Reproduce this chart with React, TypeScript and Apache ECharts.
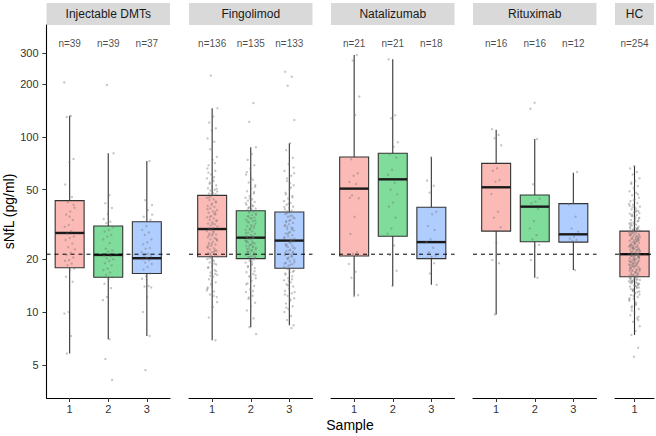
import React, { useEffect, useRef } from "react";
import * as echarts from "echarts";

// ---------------- data ----------------
const panelNames = ["Injectable DMTs", "Fingolimod", "Natalizumab", "Rituximab", "HC"];
const sampleLabels = [["1", "2", "3"], ["1", "2", "3"], ["1", "2", "3"], ["1", "2", "3"], ["1"]];
const groupCounts = [[39, 39, 37], [136, 135, 133], [21, 21, 18], [16, 16, 12], [254]];

const whiskerLow = [[5.8, 7.0, 7.3], [6.9, 8.2, 8.4], [12.4, 14.1, 14.3], [9.7, 15.7, 17.4], [7.4]];
const hingeLow = [[17.9, 15.8, 16.6], [20.7, 20.2, 17.8], [20.9, 27.1, 20.2], [29.0, 25.2, 25.1], [15.9]];
const medians = [[28.3, 21.2, 20.3], [29.8, 26.6, 25.6], [50.7, 57.3, 25.1], [51.6, 40.0, 27.8], [21.4]];
const hingeHigh = [[43.3, 31.0, 32.8], [46.4, 37.9, 37.3], [76.9, 80.7, 39.7], [70.7, 46.6, 41.6], [29.0]];
const whiskerHigh = [[132, 80.7, 72.9], [146, 87.3, 92], [294, 278, 76.6], [110, 97.4, 62.5], [68.3]];

const hcMedianLine = 21.4;
const yTickValues = [5, 10, 20, 50, 100, 200, 300];

const ptsInj1 = [205, 132, 130, 74.8, 71.5, 53.5, 45.4, 42.4, 39.4, 37.5, 36, 33.6, 31.4, 30.7, 29, 28, 27, 26.5, 25.8, 24.6, 23.5, 22.8, 21.8, 21.2, 20.5, 19.8, 19.6, 18.9, 18.5, 17.7, 17.4, 15.9, 14.9, 10.0, 9.8, 7.3, 5.8, 41, 35];
const ptsInj2 = [198, 80.7, 46.6, 41.8, 39.3, 36.3, 34.0, 32.8, 32.2, 30.5, 29.4, 28.8, 27.6, 27, 26, 24.8, 23, 22.5, 22.2, 21, 20.8, 20.3, 20, 19.6, 19, 18.5, 17.7, 17.4, 16.8, 16.3, 15.8, 15.4, 14.5, 13.7, 12.2, 11.7, 7.0, 5.4, 4.1];
const ptsInj3 = [72.9, 43.6, 40.9, 38.3, 35, 33.6, 31, 29.4, 28.5, 27.6, 26, 25, 24.4, 23.2, 23, 22, 21.5, 21, 20.8, 20.5, 20, 19.8, 19.2, 18.8, 18.1, 17.5, 16.6, 16, 15.5, 14.1, 14.0, 13.8, 12.2, 10.0, 7.3, 4.66, 36];

const ptsFin1 = [
  224, 146, 131, 121, 112, 109, 98, 94, 85, 77, 74, 69, 64, 61, 58, 56, 54, 53, 52, 51, 50, 49.5, 48.8, 48, 47.6, 47.1, 46.9, 66, 59, 55, 50.6, 57.4, 62.5, 71,
  45.8, 44.9, 44.1, 43.6, 42.2, 41.7, 40.3, 39.8, 39.1, 38.2, 37.6, 36.9, 36.1, 35.4, 34.8, 34.2, 33.7, 33.1, 32.6, 32.0, 31.7, 31.2, 30.8, 30.3, 45.1, 42.8, 40.9, 38.7, 36.4, 35.0, 33.4, 31.9, 30.1, 37.2,
  29.5, 29.0, 28.6, 28.1, 27.7, 27.3, 26.8, 26.5, 26.0, 25.6, 25.2, 24.8, 24.3, 23.9, 23.6, 23.1, 22.8, 22.4, 22.0, 21.7, 21.3, 21.0, 20.8, 28.9, 27.5, 26.2, 24.6, 23.3, 22.2, 21.5, 25.9, 27.9, 24.1, 22.6,
  20.5, 20.1, 19.6, 19.2, 18.7, 18.3, 17.9, 17.4, 16.8, 16.3, 15.9, 15.4, 14.8, 14.2, 13.6, 13.1, 12.6, 12.2, 19.9, 18.0, 16.5, 14.5, 13.3, 12.4, 20.3, 17.1, 15.1, 13.8, 18.9, 16.1, 11.4, 10.7, 9.3, 6.9,
];
const ptsFin2 = [
  156, 122, 87.3, 80, 74, 69, 66, 61, 57, 55, 53, 51, 49, 47.5, 46, 45, 44, 43.3, 42.5, 41.6, 41, 40.2, 39.6, 39, 38.5, 38.2, 48.4, 44.6, 42, 40.6, 39.3, 52, 58.5, 63,
  37.5, 37.0, 36.4, 35.9, 35.3, 34.7, 34.2, 33.6, 33.1, 32.5, 32.0, 31.4, 30.9, 30.3, 29.8, 29.4, 28.9, 28.5, 28.0, 27.6, 27.2, 26.9, 37.7, 36.0, 34.4, 32.8, 31.1, 29.6, 28.2, 27.0, 35.1, 33.3, 30.6, 26.8,
  26.4, 26.1, 25.7, 25.3, 25.0, 24.6, 24.2, 23.8, 23.5, 23.1, 22.8, 22.4, 22.1, 21.8, 21.5, 21.2, 20.9, 20.6, 20.4, 26.2, 25.5, 24.8, 24.0, 23.3, 22.6, 21.9, 21.3, 20.7, 25.1, 23.7, 22.2, 20.5, 24.4, 22.9,
  20.0, 19.6, 19.2, 18.8, 18.3, 17.8, 17.4, 16.9, 16.5, 16.0, 15.6, 15.1, 14.6, 14.1, 13.5, 13.0, 12.4, 11.9, 11.3, 10.8, 10.2, 9.2, 8.2, 7.5, 19.4, 18.1, 17.1, 15.8, 14.4, 13.2, 12.1, 16.2, 18.6,
];
const ptsFin3 = [
  236, 221, 196, 125, 92, 84, 76, 70, 64, 60, 56, 53, 50.5, 48, 46, 44.5, 43, 42, 41, 40, 39.3, 38.6, 38, 37.6, 62, 54.5, 47, 45.2, 41.5, 39.8, 51.5, 58, 67,
  37.0, 36.3, 35.6, 35.0, 34.3, 33.6, 33.0, 32.3, 31.7, 31.0, 30.4, 29.8, 29.2, 28.6, 28.1, 27.5, 27.0, 26.5, 26.0, 36.6, 34.7, 33.2, 31.4, 29.5, 27.8, 26.2, 35.3, 32.7, 30.1, 28.4, 26.7, 25.8, 30.7,
  25.3, 24.9, 24.4, 24.0, 23.5, 23.1, 22.7, 22.3, 21.9, 21.5, 21.1, 20.7, 20.3, 19.9, 19.5, 19.1, 18.8, 18.4, 18.1, 25.0, 24.2, 23.3, 22.5, 21.7, 20.9, 20.1, 19.3, 18.6, 23.8, 22.0, 20.5, 18.9, 21.3,
  17.6, 17.2, 16.8, 16.4, 16.0, 15.6, 15.2, 14.8, 14.4, 14.0, 13.6, 13.2, 12.8, 12.4, 12.0, 11.6, 11.2, 10.8, 10.4, 10.0, 9.5, 9.0, 8.4, 17.4, 16.6, 15.4, 14.2, 13.0, 11.8, 10.6, 17.0, 15.0, 12.6, 8.1,
];

const ptsNat1 = [294, 273, 170, 133.5, 74.6, 62, 60, 55.3, 53.9, 46.4, 44.7, 35, 27.9, 22, 21.5, 18.8, 17, 15.7, 12.5, 12.3, 45];
const ptsNat2 = [278, 133, 128, 93.3, 88, 79.6, 76.2, 65, 60.9, 54.8, 50, 47.1, 42.2, 40, 34.6, 30, 28, 24, 21.2, 17.2, 14.1];
const ptsNat3 = [76.6, 56.3, 52.7, 48.1, 37.4, 36.2, 31, 29.4, 26, 25, 23.3, 22, 21, 20.7, 20.3, 19, 16.6, 14.3];

const ptsRit1 = [110.6, 102.6, 98.3, 89.6, 66.2, 64.2, 56.8, 55.5, 47.2, 37.4, 34.6, 30.5, 24.9, 19.8, 19.0, 9.7];
const ptsRit2 = [157, 145, 97.4, 53.7, 44.4, 42.7, 41.8, 38.9, 33, 30, 27.5, 26, 24.2, 23.8, 19.8, 15.7];
const ptsRit3 = [63.1, 41.8, 41.2, 35, 30, 28.8, 26.9, 26.3, 25.8, 25.5, 25.2, 17.4];

const ptsHC = [
  68.3, 66, 63, 61, 58, 56, 54, 52.5, 51, 49, 48, 46.5, 45, 44, 43, 42, 41, 40, 39.2, 38.5, 37.8, 37, 36.4, 35.8, 35.2, 34.6, 34, 33.5, 33, 32.5,
  32, 31.6, 31.2, 30.8, 30.4, 30, 29.7, 29.4, 29.2, 29.1, 55, 47, 43.5, 40.5, 38, 36, 34.3, 32.8, 31.4, 30.2, 29.6, 41.5, 37.4, 35.5, 33.2, 31.8, 30.6, 29.8, 39.6, 36.8, 34.8, 32.2, 30.1,
  28.8, 28.6, 28.3, 28.1, 27.9, 27.6, 27.4, 27.1, 26.9, 26.7, 26.4, 26.2, 26.0, 25.7, 25.5, 25.3, 25.0, 24.8, 24.6, 24.4, 24.1, 23.9, 23.7, 23.5, 23.3, 23.1, 22.9, 22.7, 22.5, 22.3,
  22.1, 21.9, 21.7, 21.5, 28.5, 27.8, 27.0, 26.3, 25.6, 24.9, 24.2, 23.6, 23.0, 22.4, 21.8, 28.2, 26.6, 25.1, 23.8, 22.6, 21.6, 27.3, 24.5, 22.0, 26.1, 23.4, 28.9, 25.9, 24.0, 22.8, 21.4, 27.5, 25.4, 23.2,
  21.3, 21.1, 20.9, 20.7, 20.5, 20.3, 20.1, 19.9, 19.7, 19.5, 19.3, 19.1, 18.9, 18.7, 18.5, 18.3, 18.1, 17.9, 17.7, 17.5, 17.3, 17.1, 16.9, 16.7, 16.5, 16.3, 16.1, 15.95,
  21.2, 20.6, 20.0, 19.4, 18.8, 18.2, 17.6, 17.0, 16.4, 21.0, 19.8, 18.6, 17.4, 16.2, 20.4, 19.0, 17.8, 16.6, 20.8, 19.6, 18.4, 17.2, 16.0, 20.2, 18.0, 21.35, 19.2, 17.5, 16.8, 20.95, 19.45, 18.35, 17.25, 16.15, 18.75, 20.55,
  15.8, 15.6, 15.4, 15.2, 15.0, 14.8, 14.6, 14.4, 14.2, 14.0, 13.7, 13.4, 13.1, 12.8, 12.5, 12.2, 11.9, 11.6, 11.2, 10.8, 10.4, 10.0, 9.6, 9.2, 8.8, 8.3, 7.8, 7.4, 6.25, 5.55,
  15.7, 15.3, 14.9, 14.5, 14.1, 13.6, 13.0, 12.4, 11.8, 11.0, 10.2, 9.4, 15.5, 14.7, 13.9, 13.2, 12.6, 11.4, 15.1, 14.3, 13.5, 12.0, 15.85, 14.95, 13.8, 12.9, 15.45, 14.65, 13.3, 15.25, 14.15, 10.6, 9.0,
];

const pointsByPanel = [
  [ptsInj1, ptsInj2, ptsInj3],
  [ptsFin1, ptsFin2, ptsFin3],
  [ptsNat1, ptsNat2, ptsNat3],
  [ptsRit1, ptsRit2, ptsRit3],
  [ptsHC],
];

// ---------------- layout / style ----------------
const FONT = '"Liberation Sans", Arial, Helvetica, sans-serif';
const gridLeft = [46.5, 189, 331, 473, 615];
const gridWidth = [123.5, 123.5, 123.5, 123.5, 39];
const xRange = [[0.4, 3.6], [0.4, 3.6], [0.4, 3.6], [0.4, 3.6], [0.5, 1.5]];
const gridTop = 25;
const gridBottom = 38;
const yMin = 3.23;
const yMax = 436;
const nLabelY = 342;
const boxHalf = 0.375;
const jitterHalf = 0.14;
const fills = ["rgba(248,118,109,0.5)", "rgba(0,186,56,0.5)", "rgba(97,156,255,0.5)"];

const jitter = (i: number, g: number) => ((((i * 0.6180339887 + g * 0.371) % 1) + 1) % 1 - 0.5) * 2 * jitterHalf;

function renderBox(params: any, api: any) {
  const x = api.value(0);
  const lo = api.value(1);
  const q1 = api.value(2);
  const md = api.value(3);
  const q3 = api.value(4);
  const hi = api.value(5);
  const ci = api.value(6);
  const pLo = api.coord([x, lo]);
  const pHi = api.coord([x, hi]);
  const pQ1 = api.coord([x - boxHalf, q1]);
  const pQ3 = api.coord([x + boxHalf, q3]);
  const pMd = api.coord([x - boxHalf, md]);
  const pMdR = api.coord([x + boxHalf, md]);
  const stroke = "#333333";
  return {
    type: "group",
    children: [
      { type: "line", shape: { x1: pHi[0], y1: pHi[1], x2: pHi[0], y2: pQ3[1] }, style: { stroke, lineWidth: 1.1 } },
      { type: "line", shape: { x1: pLo[0], y1: pLo[1], x2: pLo[0], y2: pQ1[1] }, style: { stroke, lineWidth: 1.1 } },
      {
        type: "rect",
        shape: { x: pQ1[0], y: pQ3[1], width: pQ3[0] - pQ1[0], height: pQ1[1] - pQ3[1] },
        style: { fill: fills[ci], stroke, lineWidth: 1.1 },
      },
      { type: "line", shape: { x1: pMd[0], y1: pMd[1], x2: pMdR[0], y2: pMdR[1] }, style: { stroke: "#1a1a1a", lineWidth: 2.4 } },
    ],
  };
}

function buildOption() {
  const grid: any[] = [];
  const xAxis: any[] = [];
  const yAxis: any[] = [];
  const series: any[] = [];
  const graphic: any[] = [];

  panelNames.forEach((name, p) => {
    const xs = sampleLabels[p].map((_, g) => g + 1);
    grid.push({ left: gridLeft[p], width: gridWidth[p], top: gridTop, bottom: gridBottom, containLabel: false, outerBoundsMode: "none" });
    xAxis.push({
      type: "value",
      gridIndex: p,
      min: xRange[p][0],
      max: xRange[p][1],
      splitLine: { show: false },
      axisLine: { show: true, onZero: false, lineStyle: { color: "#000", width: 1.1 } },
      axisTick: { show: true, length: 4, customValues: xs, lineStyle: { color: "#333", width: 1 } },
      axisLabel: {
        show: true,
        customValues: xs,
        formatter: (v: number) => sampleLabels[p][Math.round(v) - 1] ?? "",
        color: "#333",
        fontSize: 11,
        fontFamily: FONT,
        margin: 5,
      },
    });
    const isFirst = p === 0;
    yAxis.push({
      type: "log",
      logBase: 10,
      gridIndex: p,
      min: yMin,
      max: yMax,
      splitLine: { show: false },
      minorTick: { show: false },
      axisLine: { show: isFirst, onZero: false, lineStyle: { color: "#000", width: 1.1 } },
      axisTick: { show: isFirst, length: 4, customValues: yTickValues, lineStyle: { color: "#333", width: 1 } },
      axisLabel: {
        show: isFirst,
        customValues: yTickValues,
        formatter: (v: number) => String(Math.round(v)),
        color: "#333",
        fontSize: 11,
        fontFamily: FONT,
        margin: 8,
      },
      name: isFirst ? "sNfL (pg/ml)" : "",
      nameLocation: "middle",
      nameGap: 30,
      nameTextStyle: { fontSize: 14, color: "#000", fontFamily: FONT },
    });

    series.push({
      type: "custom",
      xAxisIndex: p,
      yAxisIndex: p,
      renderItem: renderBox,
      encode: { x: 0, y: [1, 2, 3, 4, 5] },
      data: xs.map((x, g) => [x, whiskerLow[p][g], hingeLow[p][g], medians[p][g], hingeHigh[p][g], whiskerHigh[p][g], g]),
      z: 2,
      silent: true,
    });
    series.push({
      type: "line",
      xAxisIndex: p,
      yAxisIndex: p,
      data: [[xRange[p][0], hcMedianLine], [xRange[p][1], hcMedianLine]],
      symbol: "none",
      lineStyle: { type: [4, 4], color: "#000", width: 1 },
      z: 3,
      silent: true,
    });
    const pts: number[][] = [];
    pointsByPanel[p].forEach((arr, g) => {
      arr.forEach((v, i) => pts.push([g + 1 + jitter(i, g + p), v]));
    });
    series.push({
      type: "scatter",
      xAxisIndex: p,
      yAxisIndex: p,
      data: pts,
      symbolSize: 2.4,
      itemStyle: { color: "rgba(115,115,115,0.5)" },
      z: 4,
      silent: true,
    });
    series.push({
      type: "scatter",
      xAxisIndex: p,
      yAxisIndex: p,
      data: xs.map((x) => [x, nLabelY]),
      symbolSize: 1,
      itemStyle: { color: "rgba(0,0,0,0)" },
      label: {
        show: true,
        position: "inside",
        formatter: (pr: any) => "n=" + groupCounts[p][pr.dataIndex],
        fontSize: 10,
        color: "#1a1a1a",
        fontFamily: FONT,
      },
      z: 5,
      silent: true,
    });

    graphic.push({
      type: "rect",
      shape: { x: gridLeft[p], y: 3, width: gridWidth[p], height: 22 },
      style: { fill: "#d9d9d9" },
      silent: true,
    });
    graphic.push({
      type: "text",
      x: gridLeft[p] + gridWidth[p] / 2,
      y: 14,
      style: {
        text: name,
        fill: "#1a1a1a",
        font: `12px ${FONT}`,
        textAlign: "center",
        textVerticalAlign: "middle",
        align: "center",
        verticalAlign: "middle",
      },
      silent: true,
    });
  });

  graphic.push({
    type: "text",
    x: 350,
    y: 425,
    style: {
      text: "Sample",
      fill: "#000",
      font: `14px ${FONT}`,
      textAlign: "center",
      textVerticalAlign: "middle",
      align: "center",
      verticalAlign: "middle",
    },
    silent: true,
  });

  return { animation: false, backgroundColor: "#fff", grid, xAxis, yAxis, series, graphic };
}

export default function App() {
  const ref = useRef<HTMLDivElement | null>(null);
  useEffect(() => {
    if (!ref.current) return;
    const chart = echarts.init(ref.current, undefined, { renderer: "svg" });
    chart.setOption(buildOption() as any);
    return () => chart.dispose();
  }, []);
  return <div ref={ref} style={{ position: "fixed", left: 0, top: 0, width: 656, height: 436 }} />;
}
